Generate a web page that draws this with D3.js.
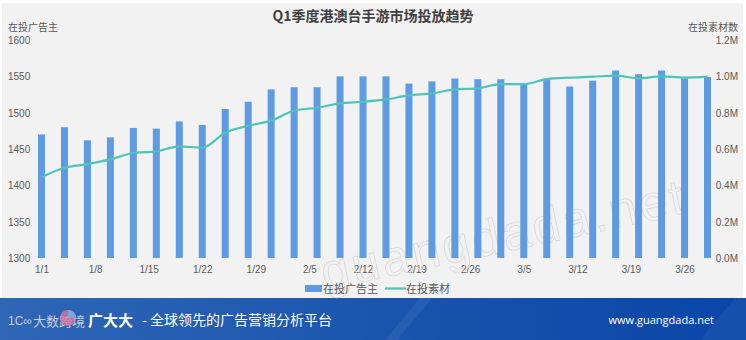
<!DOCTYPE html>
<html><head><meta charset="utf-8">
<script src="https://cdn.jsdelivr.net/npm/d3@7"></script>
<style>
html,body{margin:0;padding:0;background:#fff;}
svg{display:block;font-family:"Noto Sans CJK SC","Noto Sans",sans-serif;}
</style></head>
<body><svg id="c" width="746" height="340"></svg>
<script>
const title = "Q1季度港澳台手游市场投放趋势";
const dates = ["1/1","1/4","1/7","1/10","1/13","1/16","1/19","1/22","1/25","1/28","1/31","2/3","2/6","2/9","2/12","2/15","2/18","2/21","2/24","2/27","3/2","3/5","3/8","3/11","3/14","3/17","3/20","3/23","3/26","3/29"];
const advertisers = [1470,1480,1462,1466,1479,1478,1488,1483,1505,1515,1532,1535,1535,1550,1550,1550,1540,1543,1547,1546,1546,1540,1546,1536,1544,1558,1553,1558,1547,1549];
const creatives = [0.445,0.497,0.517,0.543,0.578,0.587,0.615,0.607,0.690,0.728,0.756,0.811,0.827,0.851,0.860,0.873,0.895,0.906,0.928,0.934,0.957,0.957,0.985,0.993,0.998,1.004,0.989,1.000,0.993,0.998];
const xTickLabels = ["1/1","1/8","1/15","1/22","1/29","2/5","2/12","2/19","2/26","3/5","3/12","3/19","3/26"];
const leftTicks = [1300,1350,1400,1450,1500,1550,1600];
const rightTicks = [0,0.2,0.4,0.6,0.8,1.0,1.2];
const seriesNames = ["在投广告主","在投素材"];
const leftAxisTitle = "在投广告主", rightAxisTitle = "在投素材数";
const footerBrand = "广大大", footerSlogan = "- 全球领先的广告营销分析平台", footerUrl = "www.guangdada.net", footerLogo = "大数跨境";

const parse = s => d3.timeParse("%Y/%m/%d")("2019/" + s);
const svg = d3.select("#c");

// backgrounds
svg.append("rect").attr("x",2).attr("y",3).attr("width",741).attr("height",296).attr("fill","#f2f2f2");

const defs = svg.append("defs");
const g1 = defs.append("linearGradient").attr("id","fg").attr("x1","0").attr("x2","1").attr("y1","0").attr("y2","0");
g1.append("stop").attr("offset","0").attr("stop-color","#2f66b6");
g1.append("stop").attr("offset","0.5").attr("stop-color","#1c55ae");
g1.append("stop").attr("offset","1").attr("stop-color","#0a46a8");
svg.append("rect").attr("x",0).attr("y",298).attr("width",746).attr("height",42).attr("fill","url(#fg)");
svg.append("path").attr("d","M385,340 L420,298 L432,298 L397,340 Z").attr("fill","#ffffff").attr("opacity",0.06);
svg.append("path").attr("d","M700,340 L735,298 L746,298 L746,340 Z").attr("fill","#ffffff").attr("opacity",0.05);

const x = d3.scaleTime().domain([parse(dates[0]), parse(dates[dates.length-1])]).range([41.5, 707.5]);
const yL = d3.scaleLinear().domain([1300,1600]).range([258,40]);
const yR = d3.scaleLinear().domain([0,1.2]).range([258,40]);

// title
svg.append("text").attr("x",373).attr("y",21).attr("text-anchor","middle").attr("font-size",14).attr("font-weight","bold").attr("fill","#404040").text(title);

// left axis
const axL = svg.append("g").attr("transform","translate(8,0)")
  .call(d3.axisLeft(yL).tickValues(leftTicks).tickSize(0).tickFormat(d3.format("d")));
axL.select(".domain").remove();
axL.selectAll("text").attr("text-anchor","start").attr("x",0).attr("dy","0.35em").attr("font-size",10).attr("fill","#595959").attr("font-family","inherit");
svg.append("text").attr("x",8).attr("y",31).attr("font-size",10).attr("fill","#595959").text(leftAxisTitle);

// right axis
const axR = svg.append("g").attr("transform","translate(738,0)")
  .call(d3.axisRight(yR).tickValues(rightTicks).tickSize(0).tickFormat(d => d3.format(".1f")(d) + "M"));
axR.select(".domain").remove();
axR.selectAll("text").attr("text-anchor","end").attr("x",0).attr("dy","0.35em").attr("font-size",10).attr("fill","#595959").attr("font-family","inherit");
svg.append("text").attr("x",738).attr("y",31).attr("text-anchor","end").attr("font-size",10).attr("fill","#595959").text(rightAxisTitle);

// x axis
const axX = svg.append("g").attr("transform","translate(0,258)")
  .call(d3.axisBottom(x).tickValues(xTickLabels.map(parse)).tickSize(0).tickFormat(d => (d.getMonth()+1) + "/" + d.getDate()));
axX.select(".domain").remove();
axX.selectAll("text").attr("y",8).attr("dy","0.71em").attr("font-size",10).attr("fill","#595959").attr("font-family","inherit");

// watermark
svg.append("text").attr("transform","translate(325,290) rotate(-12)")
  .attr("font-size",50).attr("font-family","Liberation Sans, sans-serif").attr("letter-spacing",3)
  .attr("fill","none").attr("stroke","#d8d8d8").attr("stroke-width",0.8).text("guangdada.net");

// bars
const bw = 7;
svg.append("g").selectAll("rect").data(dates).join("rect")
  .attr("x", d => x(parse(d)) - bw/2).attr("width", bw)
  .attr("y", (d,i) => yL(advertisers[i])).attr("height", (d,i) => yL(1300) - yL(advertisers[i]))
  .attr("fill","#5e9be2");

// line
const line = d3.line().x(d => x(parse(d))).y((d,i) => yR(creatives[i])).curve(d3.curveMonotoneX);
svg.append("path").datum(dates).attr("d", line).attr("fill","none").attr("stroke","#4fc4b8").attr("stroke-width",2.2);

// legend
const lg = svg.append("g");
lg.append("rect").attr("x",305).attr("y",285).attr("width",17).attr("height",7).attr("fill","#5e9be2");
lg.append("text").attr("x",323).attr("y",292.5).attr("font-size",11).attr("fill","#595959").text(seriesNames[0]);
lg.append("line").attr("x1",385).attr("x2",406).attr("y1",288.5).attr("y2",288.5).attr("stroke","#4fc4b8").attr("stroke-width",2.2);
lg.append("text").attr("x",406).attr("y",292.5).attr("font-size",11).attr("fill","#595959").text(seriesNames[1]);

// footer
const ft = svg.append("g");
ft.append("text").attr("x",8).attr("y",325).attr("font-size",12).attr("fill","#c9cfdc").attr("font-family","Liberation Sans, sans-serif").text("1C∞");
ft.append("text").attr("x",33).attr("y",326).attr("font-size",13).attr("fill","#c9cfdc").text(footerLogo);
ft.append("circle").attr("cx",68).attr("cy",318).attr("r",8).attr("fill","#e27a9c").attr("opacity",0.75);
ft.append("path").attr("d","M68,318 L68,310 A8,8 0 0 1 76,318 Z").attr("fill","#7fa5e0");
ft.append("text").attr("x",88).attr("y",326).attr("font-size",15).attr("font-weight","bold").attr("fill","#ffffff").text(footerBrand);
ft.append("text").attr("x",142).attr("y",325).attr("font-size",14).attr("fill","#ffffff").text(footerSlogan);
ft.append("text").attr("x",714).attr("y",324).attr("text-anchor","end").attr("font-size",11).attr("fill","#ffffff").attr("font-family","Open Sans, sans-serif").text(footerUrl);
</script></body></html>
